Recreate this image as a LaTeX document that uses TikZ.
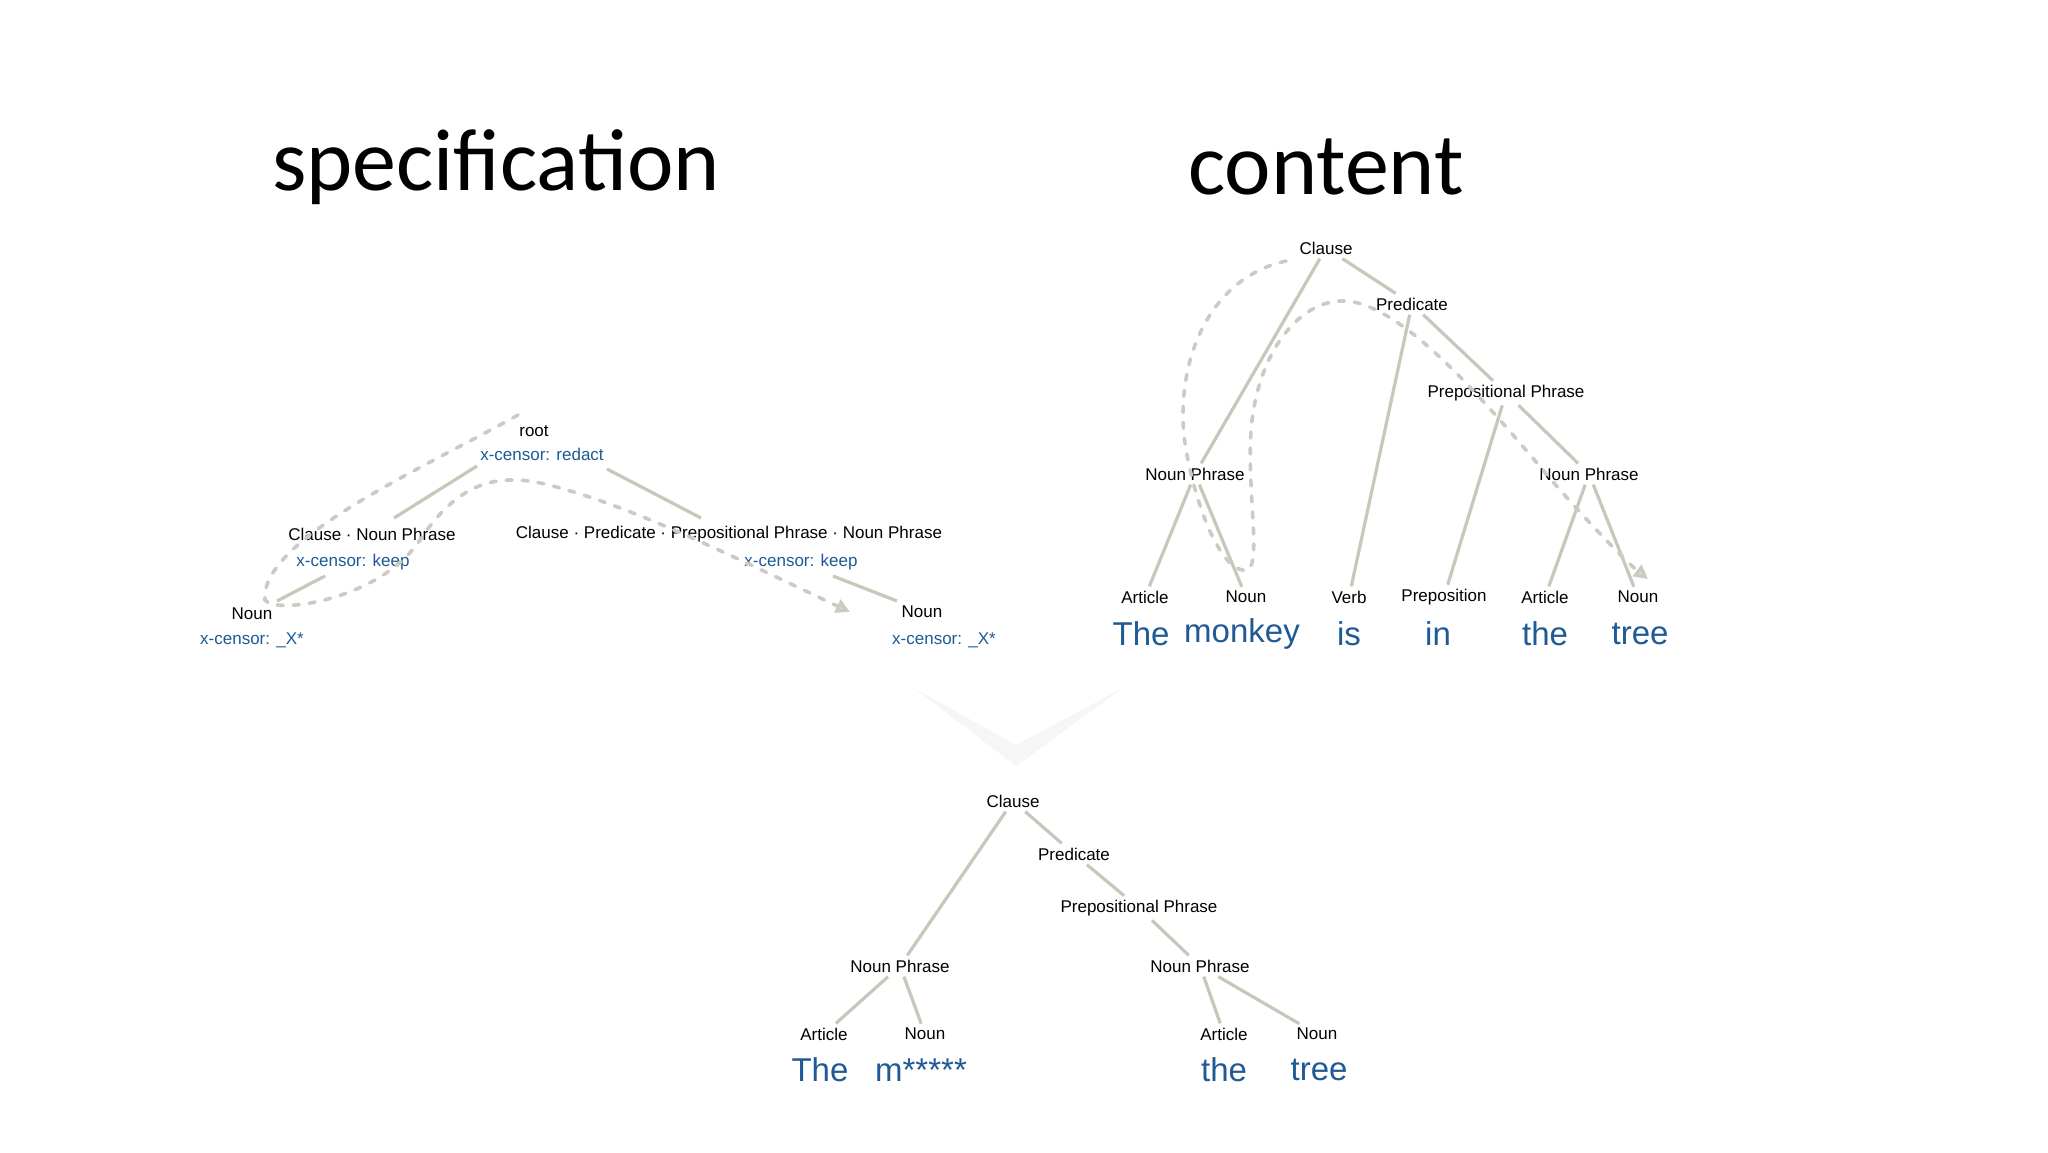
\documentclass[tikz,border=0pt]{standalone}
\usepackage{fontspec}
\setmainfont{Liberation Sans}
\newfontfamily\titlefont{Carlito}
\usetikzlibrary{arrows.meta}
\definecolor{edgec}{HTML}{C9C6BA}
\definecolor{dashc}{HTML}{CCCAC2}
\definecolor{bluec}{HTML}{1F5A96}
\tikzset{
  lbl/.style={font=\fontsize{8.5}{10}\selectfont, inner sep=2pt},
  cen/.style={font=\fontsize{8.5}{10}\selectfont, text=bluec, inner sep=2pt},
  word/.style={font=\fontsize{16.5}{19}\selectfont, text=bluec, inner sep=2pt},
  ttl/.style={font=\titlefont\fontsize{44}{50}\selectfont},
  edge/.style={draw=edgec, line width=1.6pt},
  dpath/.style={draw=dashc, line width=1.8pt, dash pattern=on 3pt off 5pt, line cap=round},
  dtip/.style={-{Triangle[length=7pt,width=7pt,fill=edgec!60]}}
}
\begin{document}
\begin{tikzpicture}[x=0.5pt,y=-0.5pt]
\useasboundingbox (0,0) rectangle (2048,1152);
\fill[white] (0,0) rectangle (2048,1152);
% chevron
\fill[gray!7] (914,688) -- (1016,745) -- (1123,688) -- (1016,766) -- cycle;
% titles
\node[ttl] (t1) at (496,167) {specification};
\node[ttl] (t2) at (1326,167) {content};
% specification tree
\node[lbl] (root) at (534,431) {root};
\node[cen] (rootc) at (542,454) {x-censor: redact};
\node[lbl] (cnp) at (372,534) {Clause · Noun Phrase};
\node[cen] (cnpc) at (353,562) {x-censor: keep};
\node[lbl] (cpp) at (729,534) {Clause · Predicate · Prepositional Phrase · Noun Phrase};
\node[cen] (cppc) at (801,562) {x-censor: keep};
\node[lbl] (n1) at (252,614) {Noun};
\node[cen] (n1c) at (252,640) {x-censor: \_X*};
\node[lbl] (n2) at (922,612) {Noun};
\node[cen] (n2c) at (944,640) {x-censor: \_X*};
\coordinate (s1) at (477,466); \coordinate (e1) at (394,518);
\coordinate (s2) at (607,469); \coordinate (e2) at (701,518);
\coordinate (s3) at (325,576); \coordinate (e3) at (277,601);
\coordinate (s4) at (833,576); \coordinate (e4) at (897,601);
\draw[edge] (s1) -- (e1);
\draw[edge] (s2) -- (e2);
\draw[edge] (s3) -- (e3);
\draw[edge] (s4) -- (e4);
\coordinate (d0) at (518,415);
\coordinate (d1) at (850,612);
\draw[dpath,dtip] (d0) .. controls (420,470) and (260,540) .. (265,600)
  .. controls (275,615) and (380,600) .. (420,540)
  .. controls (460,480) and (500,470) .. (560,488)
  .. controls (640,510) and (740,560) .. (d1);
% content tree
\node[lbl] (c) at (1326,248) {Clause};
\node[lbl] (p) at (1412,304) {Predicate};
\node[lbl] (pp) at (1506,393) {Prepositional Phrase};
\node[lbl] (np1) at (1195,474) {Noun Phrase};
\node[lbl] (np2) at (1589,474) {Noun Phrase};
\node[lbl] (a1) at (1145,597) {Article};
\node[lbl] (no1) at (1246,597) {Noun};
\node[lbl] (v) at (1349,597) {Verb};
\node[lbl] (pr) at (1444,597) {Preposition};
\node[lbl] (a2) at (1545,597) {Article};
\node[lbl] (no2) at (1638,597) {Noun};
\node[word] (w1) at (1141,634) {The};
\node[word] (w2) at (1242,634) {monkey};
\node[word] (w3) at (1349,634) {is};
\node[word] (w4) at (1438,634) {in};
\node[word] (w5) at (1545,634) {the};
\node[word] (w6) at (1640,634) {tree};
\draw[edge] (c) -- (p);
\draw[edge] (c) -- (np1);
\draw[edge] (p) -- (v);
\draw[edge] (p) -- (pp);
\draw[edge] (pp) -- (pr);
\draw[edge] (pp) -- (np2);
\draw[edge] (np1) -- (a1);
\draw[edge] (np1) -- (no1);
\draw[edge] (np2) -- (a2);
\draw[edge] (np2) -- (no2);
\coordinate (cd0) at (1286,261);
\coordinate (cd1) at (1648,579);
\draw[dpath,dtip] (cd0) .. controls (1200,280) and (1170,380) .. (1188,460)
  .. controls (1200,520) and (1225,575) .. (1248,570)
  .. controls (1262,560) and (1245,480) .. (1252,420)
  .. controls (1262,340) and (1310,290) .. (1358,303)
  .. controls (1420,320) and (1500,420) .. (1560,490)
  .. controls (1600,535) and (1630,565) .. (cd1);
% bottom tree
\node[lbl] (bc) at (1013,801) {Clause};
\node[lbl] (bp) at (1074,854) {Predicate};
\node[lbl] (bpp) at (1139,908) {Prepositional Phrase};
\node[lbl] (bnp1) at (900,966) {Noun Phrase};
\node[lbl] (bnp2) at (1200,966) {Noun Phrase};
\node[lbl] (ba1) at (824,1034) {Article};
\node[lbl] (bn1) at (925,1034) {Noun};
\node[lbl] (ba2) at (1224,1034) {Article};
\node[lbl] (bn2) at (1317,1034) {Noun};
\node[word] (bw1) at (820,1070) {The};
\node[word] (bw2) at (921,1070) {m*****};
\node[word] (bw3) at (1224,1070) {the};
\node[word] (bw4) at (1319,1070) {tree};
\draw[edge] (bc) -- (bp);
\draw[edge] (bc) -- (bnp1);
\draw[edge] (bp) -- (bpp);
\draw[edge] (bpp) -- (bnp2);
\draw[edge] (bnp1) -- (ba1);
\draw[edge] (bnp1) -- (bn1);
\draw[edge] (bnp2) -- (ba2);
\draw[edge] (bnp2) -- (bn2);
\end{tikzpicture}
\end{document}
